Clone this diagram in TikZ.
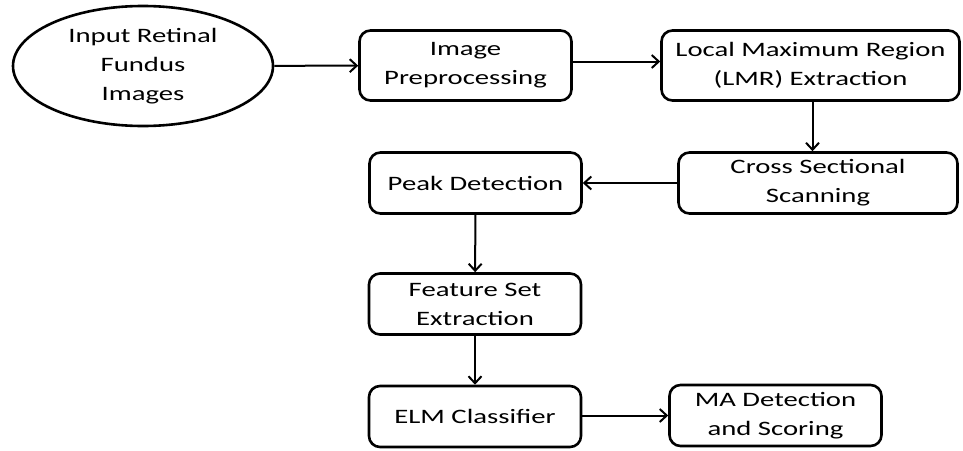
\documentclass[tikz,border=0pt]{standalone}
\usepackage{fontspec}
\setmainfont{Carlito}[FakeStretch=1.4]
\usepackage{tikz}
\usetikzlibrary{positioning, arrows.meta, shapes.geometric}

\tikzset{
  stagebox/.style={draw, line width=2.6pt, rounded corners=11pt, align=center,
    inner sep=0pt, font=\fontsize{20.5}{29}\selectfont},
  flow/.style={line width=2pt, -{Straight Barb[length=7pt, width=13pt, line width=2pt]}}
}

\begin{document}
\begin{tikzpicture}[x=1pt, y=-1pt]
    % Page frame
    \useasboundingbox (0,0) rectangle (963,450);

    % Input
    \node[stagebox, ellipse, rounded corners=0pt, minimum width=260pt, minimum height=120pt] (input) at (143,66) {Input Retinal\\Fundus\\Images};

    % Processing stages
    \node[stagebox, minimum width=212pt, minimum height=70pt] (prep) at (465.5,65.5) {Image\\Preprocessing};
    \node[stagebox, minimum width=298pt, minimum height=70pt] (lmr) at (810.5,65.5) {Local Maximum Region\\(LMR) Extraction};
    \node[stagebox, minimum width=279pt, minimum height=61pt] (cross) at (818,183) {Cross Sectional\\Scanning};
    \node[stagebox, minimum width=212pt, minimum height=61pt] (peak) at (475.5,183) {Peak Detection};
    \node[stagebox, minimum width=212pt, minimum height=61pt] (feat) at (475,304) {Feature Set\\Extraction};
    \node[stagebox, minimum width=212pt, minimum height=61pt] (elm) at (475,416.5) {ELM Classifier};
    \node[stagebox, minimum width=212pt, minimum height=61pt] (ma) at (775.5,415.5) {MA Detection\\and Scoring};

    % Connectors
    \draw[flow] (input) -- (prep);
    \draw[flow] ([yshift=4pt]prep.east) -- ([yshift=4pt]lmr.west);
    \draw[flow] ([xshift=2pt]lmr.south) -- ([xshift=2pt]lmr.south |- cross.north);
    \draw[flow] (cross) -- (peak);
    \draw[flow] (peak) -- (feat);
    \draw[flow] (feat) -- (elm);
    \draw[flow] ([yshift=1pt]elm.east) -- ([yshift=1pt]elm.east -| ma.west);

\end{tikzpicture}
\end{document}
